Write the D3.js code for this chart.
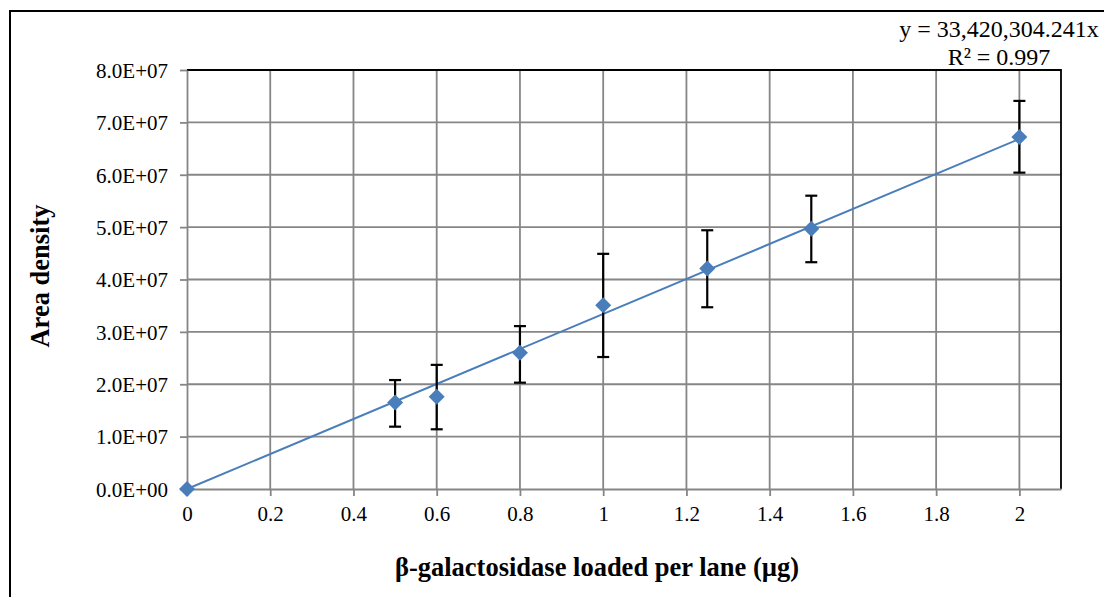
<!DOCTYPE html>
<html>
<head>
<meta charset="utf-8">
<script src="https://cdn.jsdelivr.net/npm/d3@7/dist/d3.min.js"></script>
<style>
  body { margin: 0; background: #fff; }
  svg text { font-family: "Liberation Serif", "Times New Roman", serif; }
</style>
</head>
<body>
<script>
"use strict";

// data
const amounts = [0, 0.5, 0.6, 0.8, 1, 1.25, 1.5, 2];
const density = [0, 1.65e7, 1.76e7, 2.60e7, 3.51e7, 4.21e7, 4.97e7, 6.72e7];
const errUp   = [0, 0.43e7, 0.61e7, 0.51e7, 0.98e7, 0.73e7, 0.63e7, 0.69e7];
const errDown = [0, 0.46e7, 0.62e7, 0.57e7, 0.99e7, 0.74e7, 0.64e7, 0.68e7];
const slope = 33420304.241;
const xTicks = [0, 0.2, 0.4, 0.6, 0.8, 1, 1.2, 1.4, 1.6, 1.8, 2];
const yTicks = [0, 1e7, 2e7, 3e7, 4e7, 5e7, 6e7, 7e7, 8e7];
const eqLines = ["y = 33,420,304.241x", "R\u00b2 = 0.997"];

const W = 1104, H = 597;
const svg = d3.select("body").append("svg").attr("width", W).attr("height", H);

// outer chart frame (only top and left are visible)
svg.append("path")
  .attr("d", `M10,${H} L10,11 L${W},11`)
  .attr("fill", "none").attr("stroke", "#000").attr("stroke-width", 2);

const x = d3.scaleLinear().domain([0, 2.1]).range([187, 1061]);
const y = d3.scaleLinear().domain([0, 8e7]).range([489, 70]);

const grid = "#868686";

// gridlines
svg.append("g").selectAll("line.v").data(xTicks.slice(1)).enter().append("line")
  .attr("x1", d => x(d)).attr("x2", d => x(d))
  .attr("y1", y(0)).attr("y2", y(8e7))
  .attr("stroke", grid).attr("stroke-width", 1.8);
svg.append("g").selectAll("line.h").data(yTicks.slice(1)).enter().append("line")
  .attr("x1", x(0)).attr("x2", x(2.1))
  .attr("y1", d => y(d)).attr("y2", d => y(d))
  .attr("stroke", grid).attr("stroke-width", 1.8);

// plot area border (top and right black)
svg.append("path")
  .attr("d", `M${x(0)},${y(8e7)} L${x(2.1)},${y(8e7)} L${x(2.1)},${y(0)}`)
  .attr("fill", "none").attr("stroke", "#000").attr("stroke-width", 1.8);

// axes
const xAxis = svg.append("g").attr("transform", `translate(0,${y(0)})`)
  .call(d3.axisBottom(x).tickValues(xTicks).tickSizeInner(7).tickSizeOuter(0).tickPadding(10)
    .tickFormat(d => String(d)));
const yAxis = svg.append("g").attr("transform", `translate(${x(0)},0)`)
  .call(d3.axisLeft(y).tickValues(yTicks).tickSizeInner(7).tickSizeOuter(0).tickPadding(12)
    .tickFormat(d => {
      const e = d === 0 ? 0 : Math.floor(Math.log10(d));
      const m = d / Math.pow(10, e);
      return m.toFixed(1) + "E+" + String(e).padStart(2, "0");
    }));
[xAxis, yAxis].forEach(a => {
  a.select(".domain").attr("stroke", grid).attr("stroke-width", 1.8);
  a.selectAll(".tick line").attr("stroke", grid).attr("stroke-width", 1.8);
  a.selectAll("text").attr("fill", "#000").style("font-size", "21px")
    .style("font-family", "'Liberation Serif', serif");
});
yAxis.selectAll("text").attr("dy", "0.35em");

// trendline
svg.append("line")
  .attr("x1", x(0)).attr("y1", y(0))
  .attr("x2", x(2)).attr("y2", y(slope * 2))
  .attr("stroke", "#4a7ebb").attr("stroke-width", 2);

// error bars
const pts = amounts.map((a, i) => ({ a, v: density[i], up: errUp[i], dn: errDown[i] }));
const eb = svg.append("g").selectAll("g").data(pts.filter(p => p.up > 0)).enter().append("g")
  .attr("stroke", "#000").attr("stroke-width", 2.2);
eb.append("line")
  .attr("x1", d => x(d.a)).attr("x2", d => x(d.a))
  .attr("y1", d => y(d.v + d.up)).attr("y2", d => y(d.v - d.dn));
eb.append("line")
  .attr("x1", d => x(d.a) - 6).attr("x2", d => x(d.a) + 6)
  .attr("y1", d => y(d.v + d.up)).attr("y2", d => y(d.v + d.up));
eb.append("line")
  .attr("x1", d => x(d.a) - 6).attr("x2", d => x(d.a) + 6)
  .attr("y1", d => y(d.v - d.dn)).attr("y2", d => y(d.v - d.dn));

// markers
svg.append("g").selectAll("path").data(pts).enter().append("path")
  .attr("transform", d => `translate(${x(d.a)},${y(d.v)})`)
  .attr("d", "M0,-8 L8,0 L0,8 L-8,0 Z")
  .attr("fill", "#4a7ebb");

// axis titles
svg.append("text")
  .attr("x", 597).attr("y", 576).attr("text-anchor", "middle")
  .style("font-size", "26.5px").style("font-weight", "bold")
  .text("\u03b2-galactosidase loaded per lane (\u00b5g)");
svg.append("text")
  .attr("transform", "translate(49,276) rotate(-90)").attr("text-anchor", "middle")
  .style("font-size", "26.5px").style("font-weight", "bold")
  .text("Area density");

// trendline equation
svg.append("g").selectAll("text").data(eqLines).enter().append("text")
  .attr("x", 999).attr("y", (d, i) => 37 + i * 28).attr("text-anchor", "middle")
  .style("font-size", "24px")
  .text(d => d);
</script>
</body>
</html>
